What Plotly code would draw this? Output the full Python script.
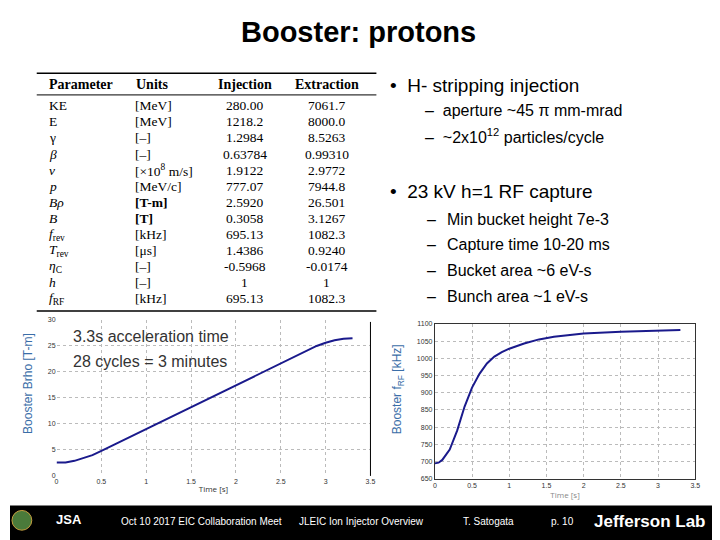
import plotly.graph_objects as go

# Datos de la tabla
params = ["KE", "E", "γ", "<i>β</i>", "<i>v</i>", "<i>p</i>", "<i>Bρ</i>", "<i>B</i>",
          "<i>f</i><sub>rev</sub>", "<i>T</i><sub>rev</sub>", "<i>η</i><sub>C</sub>", "<i>h</i>",
          "<i>f</i><sub>RF</sub>"]
units = ["[MeV]", "[MeV]", "[–]", "[–]", "[×10<sup>8</sup> m/s]", "[MeV/c]", "<b>[T-m]</b>",
         "<b>[T]</b>", "[kHz]", "[μs]", "[–]", "[–]", "[kHz]"]
injection = ["280.00", "1218.2", "1.2984", "0.63784", "1.9122", "777.07", "2.5920",
             "0.3058", "695.13", "1.4386", "-0.5968", "1", "695.13"]
extraction = ["7061.7", "8000.0", "8.5263", "0.99310", "2.9772", "7944.8", "26.501",
              "3.1267", "1082.3", "0.9240", "-0.0174", "1", "1082.3"]

# Curva Brho vs tiempo
t_brho = [0, 0.1, 0.2, 0.3, 0.4, 0.5, 0.75, 1.0, 1.25, 1.5, 1.75, 2.0, 2.25, 2.5,
          2.75, 2.9, 3.0, 3.1, 3.2, 3.3]
brho = [2.59, 2.6, 2.9, 3.4, 4.0, 4.8, 6.9, 9.0, 11.1, 13.2, 15.4, 17.5, 19.6, 21.6,
        23.7, 25.0, 25.6, 26.1, 26.4, 26.5]

# Curva fRF vs tiempo
t_frf = [0, 0.05, 0.1, 0.2, 0.3, 0.4, 0.5, 0.6, 0.7, 0.8, 0.9, 1.0, 1.2, 1.4, 1.6,
         1.8, 2.0, 2.5, 3.0, 3.3]
frf = [695, 697, 705, 735, 790, 860, 915, 955, 985, 1005, 1018, 1028, 1043, 1055,
       1063, 1068, 1072, 1077, 1081, 1082]

W, H = 720, 540
OFF = 8  # margen del body de la página


def fx(px):
    return (px - OFF) / W


def fy(py):
    return 1 - (py - OFF) / H


fig = go.Figure()
fig.add_trace(go.Scatter(x=t_brho, y=brho, mode="lines", line=dict(color="#1a1a8c", width=2),
                         xaxis="x", yaxis="y", showlegend=False))
fig.add_trace(go.Scatter(x=t_frf, y=frf, mode="lines", line=dict(color="#1a1a8c", width=2),
                         xaxis="x2", yaxis="y2", showlegend=False))

tick = dict(size=7, color="#333", family="Arial")
grid = dict(showgrid=True, gridcolor="#bbb", griddash="dot", zeroline=False, tickfont=tick)
fig.update_layout(
    width=W, height=H, margin=dict(l=0, r=0, t=0, b=0),
    paper_bgcolor="white", plot_bgcolor="white",
    xaxis=dict(domain=[fx(55), fx(372)], range=[0, 3.5], dtick=0.5, anchor="y",
               title=dict(text="Time [s]", font=dict(size=8, color="#333"), standoff=2), **grid),
    yaxis=dict(domain=[fy(478), fy(320)], range=[0, 30], dtick=5, anchor="x", **grid),
    xaxis2=dict(domain=[fx(437), fx(700)], range=[0, 3.5], dtick=0.5, anchor="y2",
                showline=True, linecolor="#333", mirror=True,
                title=dict(text="Time [s]", font=dict(size=8, color="#888"), standoff=2), **grid),
    yaxis2=dict(domain=[fy(481), fy(324)], range=[650, 1100], dtick=50, anchor="x2",
                showline=True, linecolor="#333", mirror=True, **grid),
)

ann = []


def text(x, y, s, size, xanchor="left", color="black", family="Arial", **kw):
    ann.append(dict(x=fx(x), y=fy(y), xref="paper", yref="paper", text=s, showarrow=False,
                    xanchor=xanchor, yanchor="middle", font=dict(size=size, color=color, family=family), **kw))


text(360, 28, "<b>Booster: protons</b>", 29, "center")

serif = "Liberation Serif"
text(45, 81, "<b>Parameter</b>", 14, family=serif)
text(133, 81, "<b>Units</b>", 14, family=serif)
text(245, 81, "<b>Injection</b>", 14, "center", family=serif)
text(328, 81, "<b>Extraction</b>", 14, "center", family=serif)
for i in range(len(params)):
    y = 103 + i * 16.3
    text(45, y, params[i], 13.5, family=serif)
    text(132, y, units[i], 13.5, family=serif)
    text(245, y, injection[i], 13.5, "center", family=serif)
    text(328, y, extraction[i], 13.5, "center", family=serif)

text(390, 82, "•  H- stripping injection", 19)
text(425, 108, "–  aperture ~45 π mm-mrad", 16)
text(425, 134, "–  ~2x10<sup>12</sup> particles/cycle", 16)
text(390, 190, "•  23 kV h=1 RF capture", 19)
for i, s in enumerate(["Min bucket height 7e-3", "Capture time 10-20 ms",
                       "Bucket area ~6 eV-s", "Bunch area ~1 eV-s"]):
    text(427, 218 + i * 26, "–", 16)
    text(447, 218 + i * 26, s, 16)

text(70, 337, "3.3s acceleration time", 16, color="#333")
text(70, 362, "28 cycles = 3 minutes", 16, color="#333")
text(26, 384, "Booster Brho [T-m]", 12, "center", color="#3b6ea8", textangle=-90)
text(400, 390, "Booster f<sub>RF</sub> [kHz]", 12, "center", color="#3b6ea8", textangle=-90)

text(118, 524, "Oct 10 2017 EIC Collaboration Meet", 10, color="white")
text(298, 524, "JLEIC Ion Injector Overview", 10, color="white")
text(463, 524, "T. Satogata", 10, color="white")
text(552, 524, "p. 10", 10, color="white")
text(712, 524, "<b>Jefferson Lab</b>", 17, "right", color="white")
text(52, 522, "<b>JSA</b>", 13, color="white")

shapes = [
    dict(type="rect", xref="paper", yref="paper", x0=0, x1=1, y0=0, y1=fy(508),
         fillcolor="black", line=dict(width=0), layer="below"),
    dict(type="circle", xref="paper", yref="paper", x0=fx(10), x1=fx(30), y0=fy(533), y1=fy(513),
         fillcolor="#4a7a3a", line=dict(color="#c8a040", width=1)),
    dict(type="line", xref="paper", yref="paper", x0=fx(35), x1=fx(378), y0=fy(70), y1=fy(70),
         line=dict(color="black", width=1.5)),
    dict(type="line", xref="paper", yref="paper", x0=fx(35), x1=fx(378), y0=fy(92), y1=fy(92),
         line=dict(color="black", width=1)),
    dict(type="line", xref="paper", yref="paper", x0=fx(35), x1=fx(378), y0=fy(311), y1=fy(311),
         line=dict(color="black", width=1.5)),
    dict(type="line", xref="paper", yref="paper", x0=fx(372), x1=fx(372), y0=fy(322), y1=fy(478),
         line=dict(color="black", width=1)),
]
fig.update_layout(annotations=ann, shapes=shapes)

fig.write_html("out.html")
